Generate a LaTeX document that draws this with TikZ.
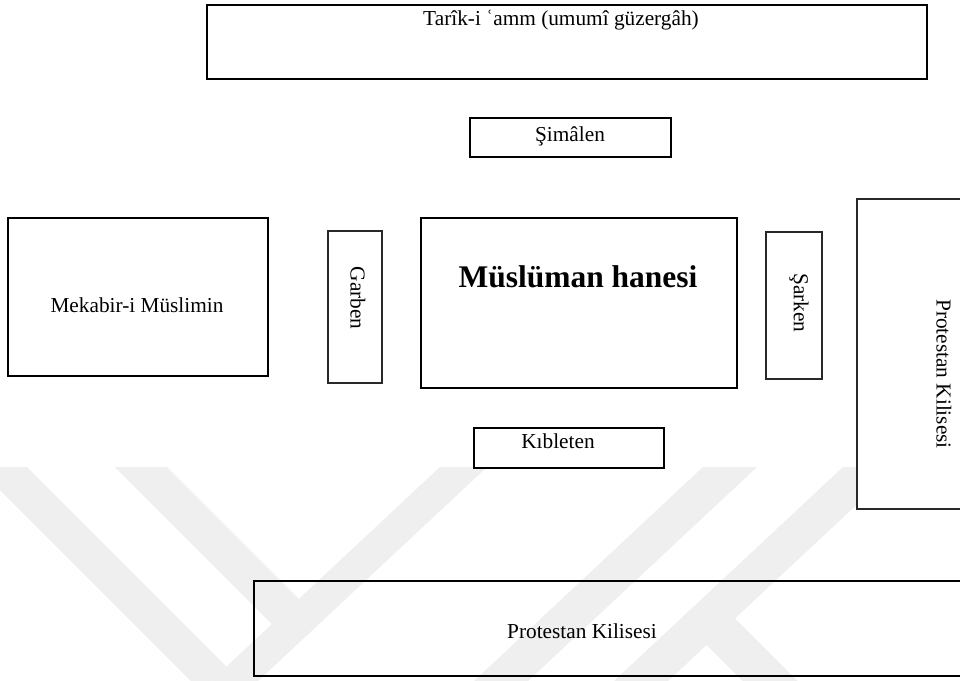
\documentclass[tikz,border=0pt]{standalone}
\usepackage{fontspec}
\setmainfont{Liberation Serif}
\definecolor{wm}{RGB}{239,239,239}
\definecolor{thinline}{RGB}{40,40,40}
\tikzset{
  thickbox/.style={draw=black, line width=2.5pt, rectangle, inner sep=0pt, outer sep=0pt},
  thinbox/.style={draw=thinline, line width=1.2pt, rectangle, inner sep=0pt, outer sep=0pt},
  lbl/.style={font=\fontsize{21.3}{25}\selectfont, inner sep=0pt, outer sep=0pt},
  blbl/.style={font=\fontsize{31.5}{36}\selectfont\bfseries, inner sep=0pt, outer sep=0pt},
  wmband/.style={fill=wm, draw=none}
}
\begin{document}
\begin{tikzpicture}[x=1pt, y=-1pt]
\clip (0,0) rectangle (960,680);
\fill[white] (0,0) rectangle (960,680);
% watermark bands
\fill[wmband] (-23,467) -- (27,467) -- (226.5,666.5) -- (200.7,690.7) -- cycle;
\fill[wmband] (115,467) -- (167,467) -- (298.9,598.9) -- (272,624) -- cycle;
\fill[wmband] (440,467) -- (487,467) -- (237.7,700) -- (190.7,700) -- cycle;
\fill[wmband] (703,467) -- (757,467) -- (507.7,700) -- (453.7,700) -- cycle;
\fill[wmband] (843,467) -- (897,467) -- (647.7,700) -- (593.7,700) -- cycle;
\fill[wmband] (733.3,616.7) -- (816.6,700) -- (761.7,700) -- (706.7,645) -- cycle;
% boxes
\node[thickbox, minimum width=720pt, minimum height=74pt] (tarik) at (567,42) {};
\node[thickbox, minimum width=201pt, minimum height=39pt] (simalen) at (570.5,137.5) {};
\node[thickbox, minimum width=260pt, minimum height=158pt] (mekabir) at (138,297) {};
\node[thinbox, minimum width=54pt, minimum height=152pt] (garben) at (355,307) {};
\node[thickbox, minimum width=316pt, minimum height=170pt] (hane) at (579,303) {};
\node[thinbox, minimum width=56pt, minimum height=147pt] (sarken) at (794,305.5) {};
\node[thinbox, fill=white, minimum width=118pt, minimum height=310pt] (protR) at (916,354) {};
\node[thickbox, minimum width=190pt, minimum height=40pt] (kible) at (569,448) {};
\node[thickbox, minimum width=721pt, minimum height=95pt] (protB) at (614.5,628.5) {};
% labels
\node[lbl, anchor=base] (tariktxt) at (561,25) {Tarîk-i ʿamm (umumî güzergâh)};
\node[lbl, anchor=base] (simalentxt) at (570,141) {Şimâlen};
\node[lbl, anchor=base] (mekabirtxt) at (137,312) {Mekabir-i Müslimin};
\node[lbl, rotate=-90] (garbentxt) at (358,298) {Garben};
\node[blbl, anchor=base] (hanetxt) at (578,287) {Müslüman hanesi};
\node[lbl, rotate=-90] (sarkentxt) at (799,303) {Şarken};
\node[lbl, rotate=-90] (protRtxt) at (944,374) {Protestan Kilisesi};
\node[lbl, anchor=base] (kibletxt) at (558,448) {Kıbleten};
\node[lbl, anchor=base] (protBtxt) at (582,638) {Protestan Kilisesi};
\end{tikzpicture}
\end{document}
